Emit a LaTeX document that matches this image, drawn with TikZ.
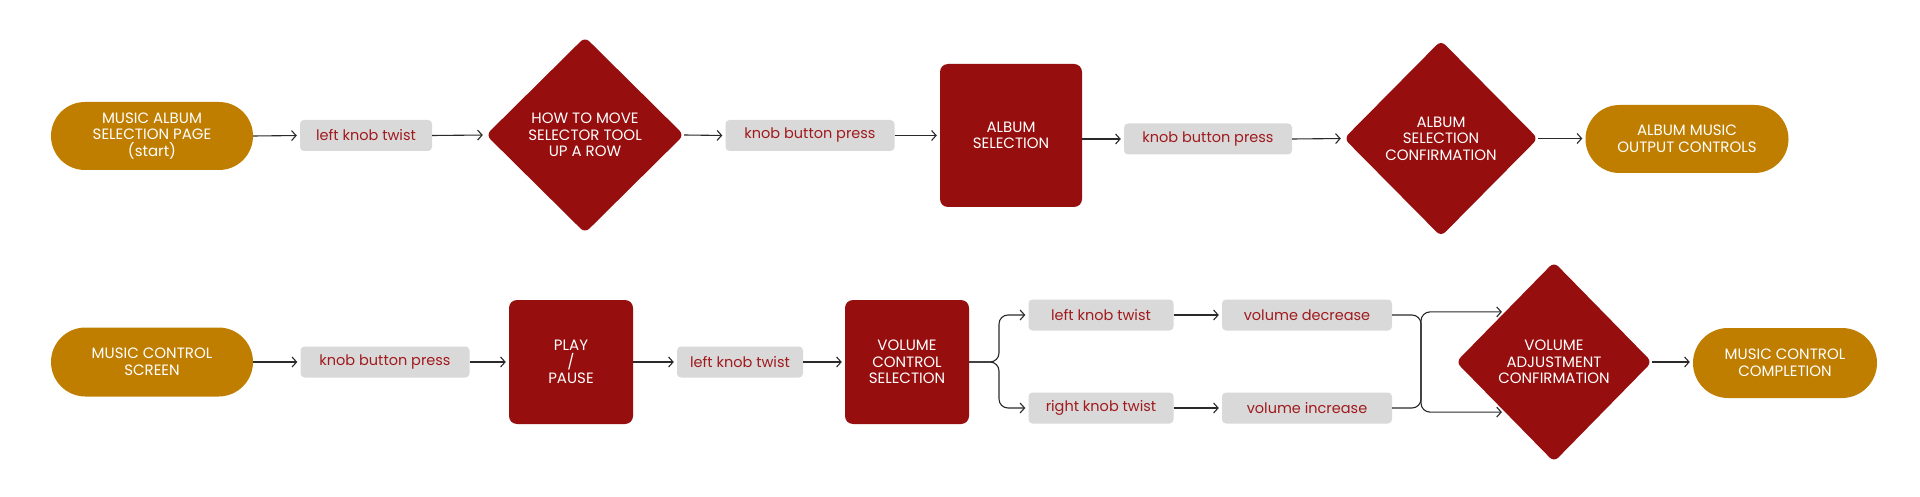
\documentclass[tikz,border=0pt]{standalone}
\usepackage{fontspec}
\setmainfont{Poppins}
\usetikzlibrary{shapes.geometric,arrows.meta,calc}
\definecolor{gold}{HTML}{BF7E00}
\definecolor{redd}{HTML}{970E0E}
\definecolor{grayb}{HTML}{D9D9D9}
\definecolor{redt}{HTML}{A01A1E}
\definecolor{linec}{HTML}{2A2A2A}
\begin{document}
\begin{tikzpicture}[x=1pt,y=-1pt,
  capf/.style={font=\fontsize{15}{16.5}\selectfont},
  pill/.style={fill=gold, text=white, align=center, inner sep=0pt, capf},
  act/.style={fill=grayb, rounded corners=4pt, text=redt, inner sep=0pt,
    minimum height=31pt, font=\fontsize{14.5}{16}\selectfont},
  proc/.style={fill=redd, rounded corners=8pt, text=white, align=center, inner sep=0pt, capf},
  dec/.style={diamond, fill=redd, rounded corners=6pt, text=white, align=center, inner sep=0pt, capf},
  ln/.style={draw=linec, line width=1.1pt},
  arr/.style={ln, -{Straight Barb[length=4.5pt,width=10pt]}, shorten >=3pt}]
\useasboundingbox[fill=white] (0,0) rectangle (1920,497);

% row 1
\node[pill, minimum width=202pt, minimum height=68pt, rounded corners=34pt] (s1) at (152,136) {MUSIC ALBUM\\SELECTION PAGE\\(start)};
\node[act, minimum width=132pt] (b1) at (366,135.5) {left knob twist};
\node[dec, minimum width=198pt, minimum height=196pt] (d1) at (585,135) {HOW TO MOVE\\SELECTOR TOOL\\UP A ROW};
\node[act, minimum width=169pt] (b2) at (810,135.5) {knob button press};
\node[proc, minimum width=142pt, minimum height=143pt] (r1) at (1011,135.5) {ALBUM\\SELECTION};
\node[act, minimum width=168pt] (b3) at (1208,139) {knob button press};
\node[dec, minimum width=194pt, minimum height=196pt] (d2) at (1441,138.5) {ALBUM\\SELECTION\\CONFIRMATION};
\node[pill, minimum width=203pt, minimum height=68pt, rounded corners=34pt] (e1) at (1687,139) {ALBUM MUSIC\\OUTPUT CONTROLS};

% row 2
\node[pill, minimum width=202pt, minimum height=69pt, rounded corners=34.5pt] (s2) at (152,362) {MUSIC CONTROL\\SCREEN};
\node[act, minimum width=169pt] (b4) at (385,362) {knob button press};
\node[proc, minimum width=124pt, minimum height=124pt] (r2) at (571,362) {PLAY\\/\\PAUSE};
\node[act, minimum width=126pt] (b5) at (740,362) {left knob twist};
\node[proc, minimum width=124pt, minimum height=124pt] (r3) at (907,362) {VOLUME\\CONTROL\\SELECTION};
\node[act, minimum width=145pt] (b6) at (1101,315) {left knob twist};
\node[act, minimum width=170pt] (b7) at (1307,315) {volume decrease};
\node[act, minimum width=145pt] (b8) at (1101,408) {right knob twist};
\node[act, minimum width=170pt] (b9) at (1307,408) {volume increase};
\node[dec, minimum width=196pt, minimum height=200pt] (d3) at (1554,362) {VOLUME\\ADJUSTMENT\\CONFIRMATION};
\node[pill, minimum width=184pt, minimum height=70pt, rounded corners=35pt] (e2) at (1785,363) {MUSIC CONTROL\\COMPLETION};

% connectors row 1
\draw[arr] (s1.east) -- (b1.west);
\draw[arr] (b1.east) -- (d1.west);
\draw[arr] (d1.east) -- (b2.west);
\draw[arr] (b2.east) -- (r1.west);
\draw[arr] (r1.east |- b3.west) -- (b3.west);
\draw[arr] (b3.east) -- (d2.west);
\draw[arr] (d2.east) -- (d2.east -| e1.west);

% connectors row 2
\draw[arr] (s2.east) -- (b4.west);
\draw[arr] (b4.east) -- (r2.west);
\draw[arr] (r2.east) -- (b5.west);
\draw[arr] (b5.east) -- (r3.west);
\coordinate (fk) at (999,362);
\draw[arr, rounded corners=9pt] (r3.east) -- (fk) -- (fk |- b6.west) -- (b6.west);
\draw[arr, rounded corners=9pt] (r3.east) -- (fk) -- (fk |- b8.west) -- (b8.west);
\draw[arr] (b6.east) -- (b7.west);
\draw[arr] (b8.east) -- (b9.west);
\coordinate (mj) at (1421,362);
\draw[ln, rounded corners=9pt] (b7.east) -- (mj |- b7.east) -- (mj |- b9.east) -- (b9.east);
\coordinate (du) at ($(d3.west)!0.5!(d3.north)$);
\coordinate (dd) at ($(d3.west)!0.5!(d3.south)$);
\draw[arr, rounded corners=9pt] (mj) -- (mj |- du) -- (du);
\draw[arr, rounded corners=9pt] (mj) -- (mj |- dd) -- (dd);
\draw[arr] (d3.east) -- (d3.east -| e2.west);
\end{tikzpicture}
\end{document}
